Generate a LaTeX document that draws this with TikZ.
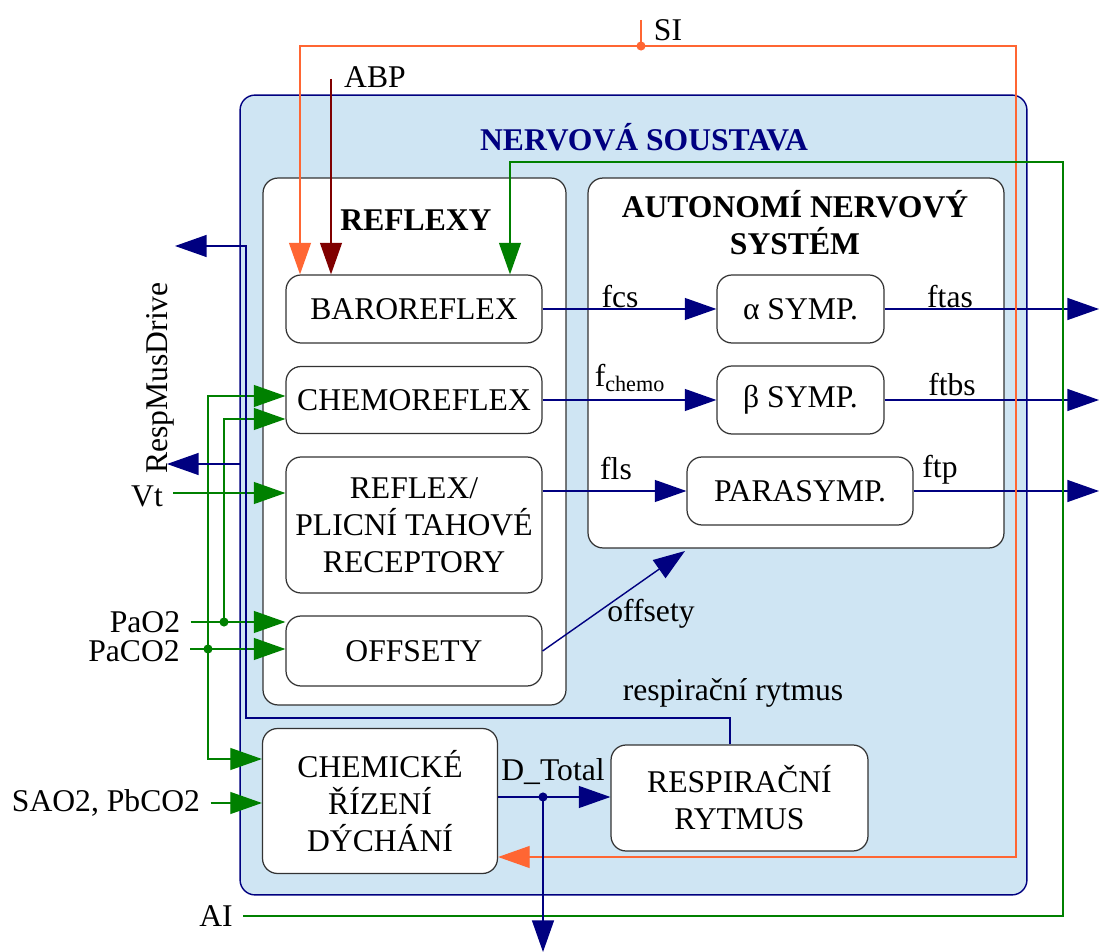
\documentclass[tikz,border=0pt]{standalone}
\usepackage{fontspec}
\setmainfont{Liberation Serif}
\usepackage{tikz}
\usetikzlibrary{arrows.meta}
\definecolor{nsblue}{HTML}{CFE5F3}
\definecolor{nsnavy}{HTML}{000080}
\definecolor{nsgreen}{HTML}{008000}
\definecolor{nsorange}{HTML}{FF6633}
\definecolor{nsred}{HTML}{800000}

\begin{document}
\begin{tikzpicture}[x=0.02cm,y=-0.02cm,
    font=\fontsize{18}{21}\selectfont,
    tip/.style={-{Triangle[length=18pt,width=12.5pt]}},
    blok/.style={draw=black!80,line width=0.7pt,rounded corners=0.3cm,fill=white,align=center,inner sep=0pt},
    titul/.style={font=\fontsize{18}{21}\selectfont\bfseries,align=center},
    popis/.style={inner sep=1pt,outer sep=5pt},
    nav/.style={nsnavy,line width=0.8pt},
    grn/.style={nsgreen,line width=0.8pt},
    orn/.style={nsorange,line width=0.8pt},
    drd/.style={nsred,line width=0.8pt}]
    \useasboundingbox (0,0) rectangle (1099,952);
    \node[draw=nsnavy,fill=nsblue,line width=0.8pt,rounded corners=0.3cm,minimum width=15.74cm,minimum height=16cm] (ns) at (633.5,495) {};
    \node[titul,nsnavy] (nstitle) at (644,137) {NERVOVÁ SOUSTAVA};
    \node[blok,minimum width=6.06cm,minimum height=10.54cm] (reflexy) at (414.5,441.5) {};
    \node[titul] (reftitle) at (416,220) {REFLEXY};
    \node[blok,minimum width=8.32cm,minimum height=7.4cm] (ans) at (796,363) {};
    \node[titul] (anstitle) at (795,223) {AUTONOMÍ NERVOVÝ\\SYSTÉM};

    \node[blok,minimum width=5.12cm,minimum height=1.36cm] (baro) at (414,309) {BAROREFLEX};
    \node[blok,minimum width=5.12cm,minimum height=1.34cm] (chemo) at (414,400) {CHEMOREFLEX};
    \node[blok,minimum width=5.12cm,minimum height=2.72cm] (reflex) at (414,525) {REFLEX/\\PLICNÍ TAHOVÉ\\RECEPTORY};
    \node[blok,minimum width=5.12cm,minimum height=1.4cm] (offs) at (414,651) {OFFSETY};
    \node[blok,minimum width=3.34cm,minimum height=1.36cm] (alpha) at (800.5,309) {α SYMP.};
    \node[blok,minimum width=3.34cm,minimum height=1.36cm] (beta) at (800.5,400) {β SYMP.};
    \node[blok,minimum width=4.52cm,minimum height=1.36cm] (para) at (800,491) {PARASYMP.};
    \node[blok,minimum width=4.7cm,minimum height=2.9cm] (chemic) at (380,801) {CHEMICKÉ\\ŘÍZENÍ\\DÝCHÁNÍ};
    \node[blok,minimum width=5.14cm,minimum height=2.12cm] (resp) at (739.5,798) {RESPIRAČNÍ\\RYTMUS};

    \node[popis] (fcs) at (620,297) {fcs};
    \node[popis] (fchemo) at (630,378) {f\textsubscript{chemo}};
    \node[popis] (fls) at (616,469) {fls};
    \node[popis] (ftas) at (950,297) {ftas};
    \node[popis] (ftbs) at (952,385) {ftbs};
    \node[popis] (ftp) at (940,470) {ftp};
    \node[popis] (offsety) at (651,614) {offsety};
    \node[popis] (rrlabel) at (733,693) {respirační rytmus};
    \node[popis] (dtotal) at (553,772) {D\_Total};
    \node[popis] (si) at (668,30) {SI};
    \node[popis] (abp) at (375,77) {ABP};
    \node[popis] (vt) at (147,496) {Vt};
    \node[popis] (pao2) at (145,622) {PaO2};
    \node[popis] (paco2) at (134,651) {PaCO2};
    \node[popis] (sao) at (106,803) {SAO2, PbCO2};
    \node[popis] (ai) at (216,916) {AI};
    \node[popis,rotate=90] (rmdlabel) at (160,378) {RespMusDrive};

    \coordinate (outR) at (1099,0);
    \coordinate (outB) at (0,952);
    \coordinate (offtip) at (685,551);
    \draw[nav,tip] (baro) -- (alpha);
    \draw[nav,tip] (chemo.east) -- (chemo.east -| beta.west);
    \draw[nav,tip] (reflex.east |- para.west) -- (para.west);
    \draw[nav,tip] (offs.east) -- (offtip);
    \draw[nav,tip] (alpha.east) -- (alpha.east -| outR);
    \draw[nav,tip] (beta.east) -- (beta.east -| outR);
    \draw[nav,tip] (para.east) -- (para.east -| outR);

    \coordinate (sitop) at (641,20);
    \coordinate (sidot) at (641,46);
    \coordinate (siL) at (300,46);
    \coordinate (siR) at (1016,46);
    \coordinate (siin) at (0,857);
    \draw[orn] (sitop) -- (sidot);
    \draw[orn,tip] (sidot) -- (siL) -- (siL |- baro.north);
    \draw[orn,tip] (sidot) -- (siR) -- (siR |- siin) -- (chemic.east |- siin);
    \fill[nsorange] (sidot) circle (2.6pt);

    \coordinate (abptop) at (331,79);
    \draw[drd,tip] (abptop) -- (abptop |- baro.north);

    \coordinate (aiT) at (1063,162);
    \coordinate (aiin) at (510,162);
    \coordinate (vtin) at (0,493);
    \coordinate (co2y) at (0,649);
    \draw[grn,tip] (ai.east) -| (aiT) -- (aiin) -- (aiin |- baro.north);
    \draw[grn,tip] (vt.east |- vtin) -- (reflex.west |- vtin);
    \draw[grn,tip] (pao2.east) -- (pao2.east -| offs.west);
    \draw[grn,tip] (paco2.east |- co2y) -- (offs.west |- co2y);
    \draw[grn,tip] (sao.east) -- (sao.east -| chemic.west);
    \coordinate (o2dot) at (224,622);
    \coordinate (o2in) at (0,419);
    \coordinate (co2dot) at (208,649);
    \coordinate (co2in) at (0,396);
    \coordinate (co2dn) at (0,759);
    \draw[grn,tip] (o2dot) -- (o2dot |- o2in) -- (chemo.west |- o2in);
    \draw[grn,tip] (co2dot) -- (co2dot |- co2in) -- (chemo.west |- co2in);
    \draw[grn,tip] (co2dot) -- (co2dot |- co2dn) -- (chemic.west |- co2dn);
    \fill[nsgreen] (o2dot) circle (2.6pt) (co2dot) circle (2.6pt);

    \coordinate (rr1) at (730,718);
    \coordinate (rr2) at (246,718);
    \coordinate (rmd1) at (175,246);
    \coordinate (rmd2a) at (241,464);
    \coordinate (rmd2) at (167,464);
    \draw[nav,tip] (rr1 |- resp.north) -- (rr1) -- (rr2) |- (rmd1);
    \draw[nav,tip] (rmd2a) -- (rmd2);

    \coordinate (dtdot) at (543,797);
    \draw[nav,tip] (chemic.east |- dtdot) -- (dtdot -| resp.west);
    \draw[nav,tip] (dtdot) -- (dtdot |- outB);
    \fill[nsnavy] (dtdot) circle (2.6pt);
\end{tikzpicture}
\end{document}
